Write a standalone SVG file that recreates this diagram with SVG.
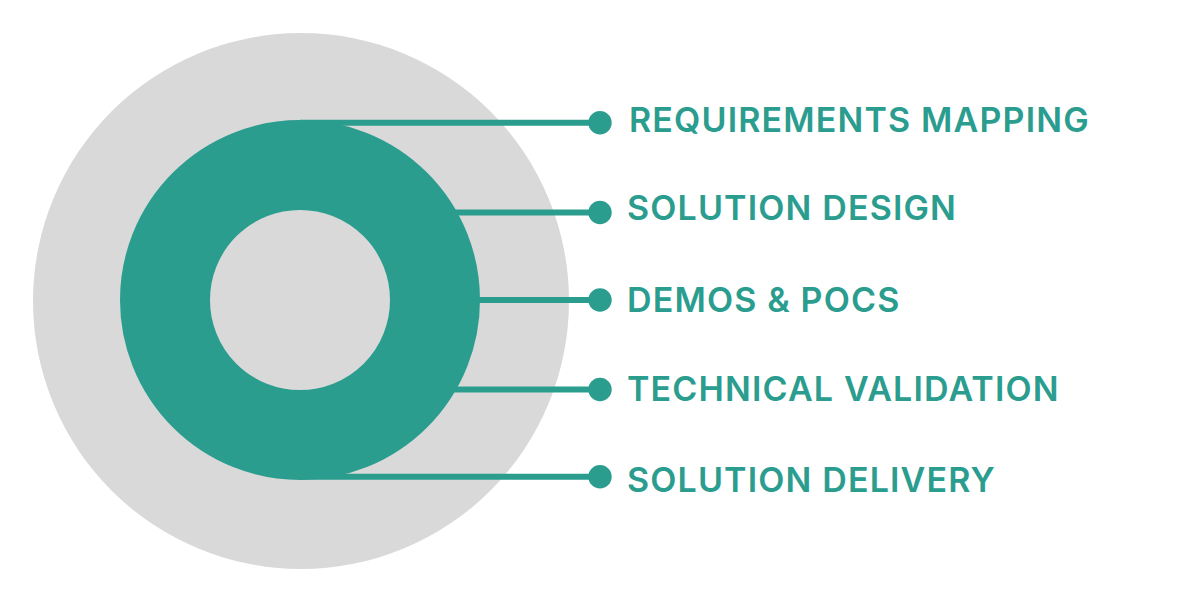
<svg xmlns="http://www.w3.org/2000/svg" width="1200" height="603" viewBox="0 0 1200 603">
<style>
.lbl{font-family:Inter,"Noto Sans","Liberation Sans",sans-serif;font-weight:600;font-size:34px;letter-spacing:1.15px;fill:#2a9d8f}
.con{stroke:#2a9d8f;stroke-width:6;fill:none}
.dot{fill:#2a9d8f}
</style>
<rect width="1200" height="603" fill="#ffffff"/>
<g id="outer"><circle cx="301" cy="301" r="268" fill="#d9d9d9"/></g>
<g id="ring"><circle cx="300" cy="300" r="135" fill="none" stroke="#2a9d8f" stroke-width="90"/></g>
<g id="connectors">
<line class="con" x1="300" y1="122.7" x2="600" y2="122.7"/>
<line class="con" x1="440" y1="212.5" x2="600" y2="212.5"/>
<line class="con" x1="470" y1="300" x2="600" y2="300"/>
<line class="con" x1="440" y1="389.5" x2="600" y2="389.5"/>
<line class="con" x1="300" y1="476.8" x2="600" y2="476.8"/>
<circle class="dot" cx="600" cy="122.7" r="11.7"/>
<circle class="dot" cx="600" cy="212.5" r="11.7"/>
<circle class="dot" cx="600" cy="300" r="11.7"/>
<circle class="dot" cx="600" cy="389.5" r="11.7"/>
<circle class="dot" cx="600" cy="476.8" r="11.7"/>
</g>
<g id="n1"><text class="lbl" x="629" y="132">REQUIREMENTS MAPPING</text></g>
<g id="n2"><text class="lbl" x="627" y="220">SOLUTION DESIGN</text></g>
<g id="n3"><text class="lbl" x="627" y="311.5">DEMOS &amp; POCS</text></g>
<g id="n4"><text class="lbl" x="627" y="401">TECHNICAL VALIDATION</text></g>
<g id="n5"><text class="lbl" x="627" y="491.5">SOLUTION DELIVERY</text></g>
</svg>
